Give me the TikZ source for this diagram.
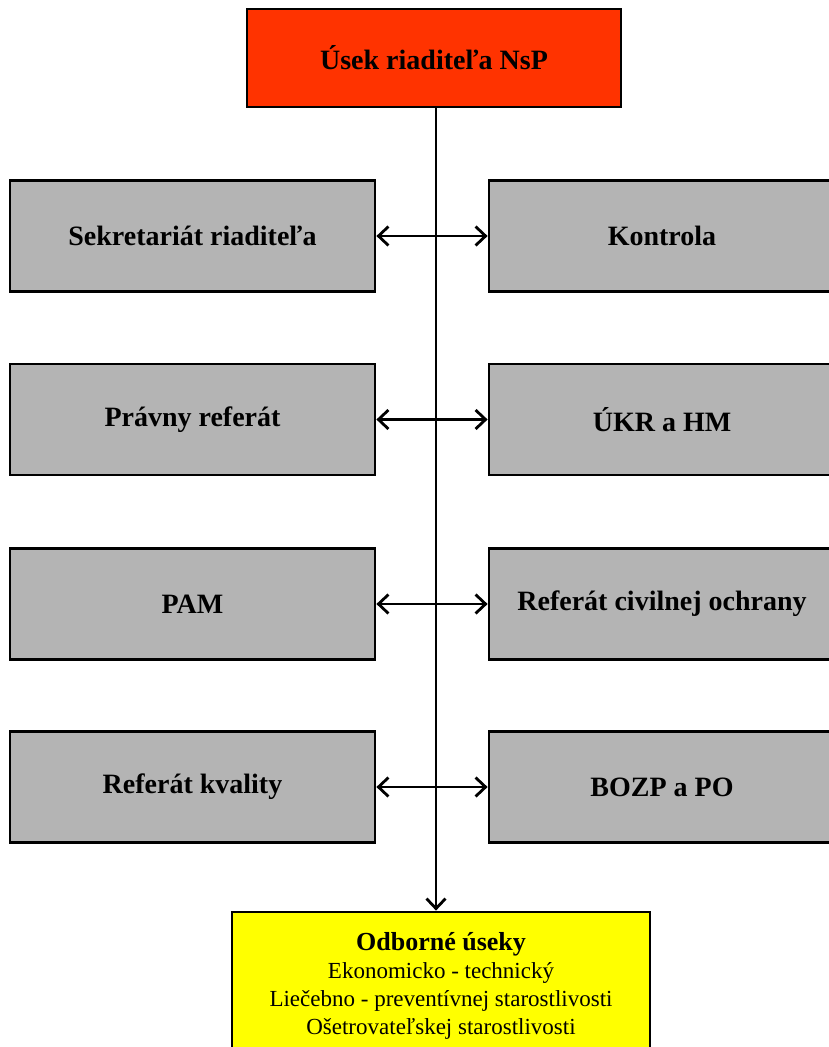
\documentclass[tikz,border=0pt]{standalone}
\usepackage{fontspec}
\setmainfont{Liberation Serif}
\usetikzlibrary{arrows.meta}

\definecolor{headred}{RGB}{255,51,0}
\definecolor{boxgrey}{RGB}{180,180,180}
\definecolor{unityellow}{RGB}{255,255,0}

\begin{document}
\begin{tikzpicture}[x=1pt,y=-1pt,
    box/.style={draw, line width=2.8pt, inner sep=0pt, align=center},
    redbox/.style={box, fill=headred, minimum width=374pt, minimum height=98pt,
        font=\bfseries\fontsize{28}{32}\selectfont},
    greybox/.style={box, fill=boxgrey, minimum height=111pt,
        font=\bfseries\fontsize{28}{32}\selectfont},
    leftbox/.style={greybox, minimum width=365pt},
    rightbox/.style={greybox, minimum width=346pt},
    yellowbox/.style={box, fill=unityellow, minimum width=418pt, minimum height=148pt,
        font=\fontsize{23}{28}\selectfont},
    link/.style={line width=2.8pt, {Straight Barb[length=10pt,width=19pt]}-{Straight Barb[length=10pt,width=19pt]}},
    spine/.style={line width=2.8pt, -{Straight Barb[length=10pt,width=19pt]}}]

    % Page frame
    \fill[white] (0,0) rectangle (829,1047);
    \useasboundingbox (0,0) rectangle (829,1047);

    % Head of the unit
    \node[redbox] (head) at (434,58) {Úsek riaditeľa NsP};

    % Left column
    \node[leftbox] (sekretariat) at (192.5,236) {Sekretariát riaditeľa};
    \node[leftbox] (pravny) at (192.5,419.5) {Právny referát};
    \node[leftbox] (pam) at (192.5,604) {PAM};
    \node[leftbox] (kvalita) at (192.5,787) {Referát kvality};

    % Right column
    \node[rightbox] (kontrola) at (662,236) {Kontrola};
    \node[rightbox] (ukr) at (662,419.5) {ÚKR a HM};
    \node[rightbox] (civil) at (662,604) {Referát civilnej ochrany};
    \node[rightbox] (bozp) at (662,787) {BOZP a PO};

    % Professional sections
    \node[yellowbox] (odborne) at (441,986) {{\bfseries\fontsize{26}{28}\selectfont Odborné úseky}\\
        Ekonomicko - technický\\
        Liečebno - preventívnej starostlivosti\\
        Ošetrovateľskej starostlivosti};

    % Vertical line
    \coordinate (spinetop) at (436,107);
    \draw[spine] (spinetop) -- (spinetop |- odborne.north);

    % Double arrows between the columns
    \draw[link] (sekretariat.east) -- (kontrola.west);
    \draw[link] (pravny.east) -- (ukr.west);
    \draw[link] (pam.east) -- (civil.west);
    \draw[link] (kvalita.east) -- (bozp.west);

\end{tikzpicture}
\end{document}
